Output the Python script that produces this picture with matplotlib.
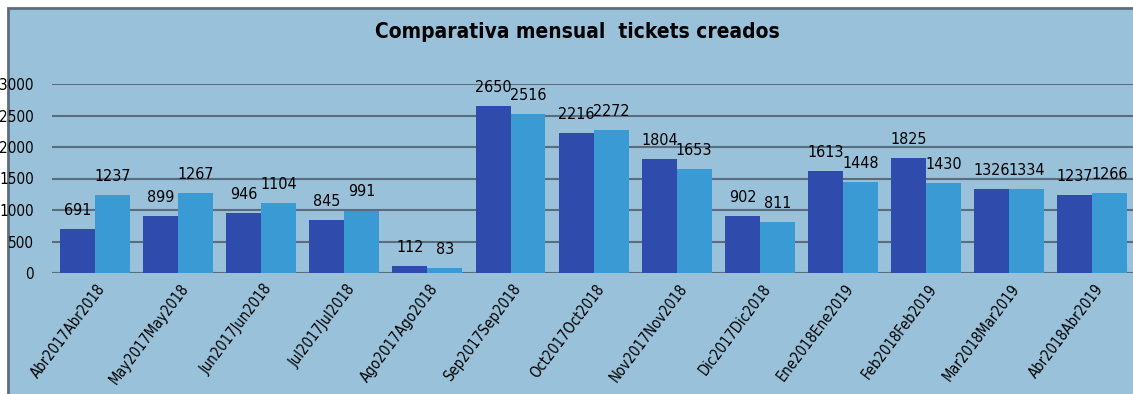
import matplotlib
matplotlib.use("Agg")
import matplotlib.pyplot as plt
import numpy as np
from matplotlib.patches import Rectangle

CATEGORIES = [
    "Abr2017Abr2018", "May2017May2018", "Jun2017Jun2018", "Jul2017Jul2018",
    "Ago2017Ago2018", "Sep2017Sep2018", "Oct2017Oct2018", "Nov2017Nov2018",
    "Dic2017Dic2018", "Ene2018Ene2019", "Feb2018Feb2019", "Mar2018Mar2019",
    "Abr2018Abr2019",
]
PREV_YEAR = [691, 899, 946, 845, 112, 2650, 2216, 1804, 902, 1613, 1825, 1326, 1237]
CURR_YEAR = [1237, 1267, 1104, 991, 83, 2516, 2272, 1653, 811, 1448, 1430, 1334, 1266]
Y_TICKS = [0, 500, 1000, 1500, 2000, 2500, 3000]

PANEL = "#99c1da"
DARK = "#2f4bab"
LIGHT = "#3a9ad3"
GRID = "#5b6d7c"

plt.rcParams["font.family"] = ["DejaVu Sans"]
plt.rcParams["font.stretch"] = "condensed"

W, H = 1133, 394
fig = plt.figure(figsize=(W / 100, H / 100), dpi=100)
fig.patch.set_facecolor("white")

# light blue chart panel with dark border
fig.patches.append(Rectangle((8 / W, -0.05), 1.1, 1 - 8 / H + 0.05,
                             transform=fig.transFigure, facecolor=PANEL,
                             edgecolor=GRID, linewidth=2, zorder=0))

ax = fig.add_axes([52 / W, (H - 273) / H, (W - 52) / W, (273 - 84) / H])
ax.set_facecolor("none")
ax.set_zorder(2)

x = np.arange(len(CATEGORIES))
bw = 0.42
b1 = ax.bar(x - bw / 2, PREV_YEAR, bw, color=DARK, zorder=3)
b2 = ax.bar(x + bw / 2, CURR_YEAR, bw, color=LIGHT, zorder=3)
for bars in (b1, b2):
    ax.bar_label(bars, padding=8, fontsize=11.5, color="black")

ax.set_xlim(-0.517, 12.49)
ax.set_ylim(0, 3000)
ax.set_yticks(Y_TICKS)
ax.yaxis.grid(True, color=GRID, linewidth=1.5, zorder=1)
ax.set_axisbelow(True)
for s in ax.spines.values():
    s.set_visible(False)
ax.tick_params(axis="both", length=0)
ax.tick_params(axis="y", labelsize=11, pad=13)
ax.set_xticks(x + 0.02)
ax.set_xticklabels(CATEGORIES, rotation=53, ha="right", rotation_mode="anchor",
                   fontsize=10.5)
ax.tick_params(axis="x", pad=6)

fig.text(577 / W, 1 - 32 / H, "Comparativa mensual  tickets creados",
         ha="center", va="center", fontsize=15, fontweight="bold")

fig.savefig("out.png", dpi=100)
